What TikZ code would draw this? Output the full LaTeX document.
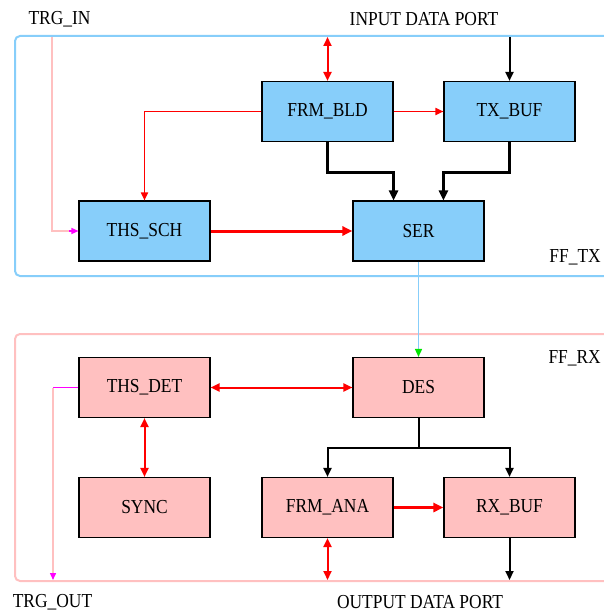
\documentclass[tikz,border=0pt]{standalone}
\usepackage{fontspec}
\setmainfont{Liberation Serif}[FakeStretch=0.88]
\usetikzlibrary{arrows.meta,calc}
\definecolor{txblue}{RGB}{135,206,250}
\definecolor{rxpink}{RGB}{255,192,192}
\definecolor{mag}{RGB}{255,0,255}
\definecolor{grn}{RGB}{0,230,0}
\tikzset{
  lbl/.style={font=\fontsize{19.8}{22}\selectfont, inner sep=0pt},
  blk/.style={draw=black, line width=1.1pt, minimum width=131pt, minimum height=60pt, inner sep=0pt, font=\fontsize{19.8}{22}\selectfont},
  txblk/.style={blk, fill=txblue},
  rxblk/.style={blk, fill=rxpink},
  frame/.style={line width=2pt, rounded corners=5pt},
  redthin/.style={draw=red, line width=1.7pt, -{Triangle[length=8pt,width=7pt]}},
  redthick/.style={draw=red, line width=3pt, -{Triangle[length=10pt,width=9pt]}},
  reddbl/.style={draw=red, line width=2pt, {Triangle[length=9pt,width=8pt]}-{Triangle[length=9pt,width=8pt]}},
  blkthick/.style={draw=black, line width=3pt, -{Triangle[length=10pt,width=9pt]}},
  blkmed/.style={draw=black, line width=2pt, -{Triangle[length=9pt,width=8pt]}},
}
\begin{document}
\begin{tikzpicture}[x=1pt,y=-1pt]
\useasboundingbox (0,0) rectangle (603,612);
% frames
\draw[frame, draw=txblue] (15,36) rectangle (660,276);
\draw[frame, draw=rxpink] (15,334) rectangle (660,581);
% labels
\node[lbl] (trgin) at (59.5,19) {TRG\_IN};
\node[lbl] (inport) at (424,19) {INPUT DATA PORT};
\node[lbl, anchor=east] (fftx) at (601,257) {FF\_TX};
\node[lbl, anchor=east] (ffrx) at (601,358) {FF\_RX};
\node[lbl] (trgout) at (52.5,602) {TRG\_OUT};
\node[lbl] (outport) at (420,602) {OUTPUT DATA PORT};
% blocks
\node[txblk] (frmbld) at (327.5,111.5) {FRM\_BLD};
\node[txblk] (txbuf) at (509.5,111.5) {TX\_BUF};
\node[txblk] (thssch) at (144.5,231) {THS\_SCH};
\node[txblk] (ser) at (418.5,231) {SER};
\node[rxblk] (thsdet) at (144.5,387.5) {THS\_DET};
\node[rxblk] (des) at (418.5,387.5) {DES};
\node[rxblk] (sync) at (144.5,507.5) {SYNC};
\node[rxblk] (frmana) at (327.5,507.5) {FRM\_ANA};
\node[rxblk] (rxbuf) at (509.5,507.5) {RX\_BUF};
% port coordinates
\coordinate (ipa) at (327.5,37);
\coordinate (ipb) at (509.5,37);
\coordinate (opa) at (327.5,580);
\coordinate (opb) at (509.5,580);
\coordinate (tin) at (52,37);
\coordinate (tout) at (53,580);
% TX connectors
\draw[reddbl] (ipa) -- (frmbld.north);
\draw[blkmed] (ipb) -- (txbuf.north);
\draw[redthin] (frmbld.east) -- (txbuf.west);
\draw[redthin] (frmbld.west) -| (thssch.north);
\draw[blkthick] (frmbld.south) -- ++(0,30.5) -| (ser.north -| frmbld.east);
\draw[blkthick] (txbuf.south) -- ++(0,30.5) -| (ser.north -| txbuf.west);
\draw[redthick] (thssch.east) -- (ser.west);
\draw[draw=rxpink, line width=1.6pt] (tin) |- ($(thssch.west)+(-9,0)$);
\draw[draw=mag, line width=1.4pt, -{Triangle[length=7pt,width=6pt]}] ($(thssch.west)+(-9,0)$) -- (thssch.west);
% TX -> RX
\draw[draw=txblue, line width=1.6pt] (ser.south) -- ($(des.north)+(0,-8)$);
\draw[draw=grn, line width=1.5pt, -{Triangle[length=8pt,width=7pt]}] ($(des.north)+(0,-8)$) -- (des.north);
% RX connectors
\draw[reddbl] (thsdet.east) -- (des.west);
\draw[reddbl] (thsdet.south) -- (sync.north);
\draw[blkmed] (des.south) -- ++(0,29.5) coordinate (br) -| (frmana.north);
\draw[blkmed] (br) -| (rxbuf.north);
\draw[redthick] (frmana.east) -- (rxbuf.west);
\draw[reddbl] (frmana.south) -- (opa);
\draw[blkmed] (rxbuf.south) -- (opb);
\draw[draw=mag, line width=1.4pt] (thsdet.west) -- (thsdet.west -| tout);
\draw[draw=rxpink, line width=1.6pt] (thsdet.west -| tout) -- ($(tout)+(0,-7)$);
\draw[draw=mag, line width=1.4pt, -{Triangle[length=7pt,width=6pt]}] ($(tout)+(0,-7)$) -- (tout);
\end{tikzpicture}
\end{document}
